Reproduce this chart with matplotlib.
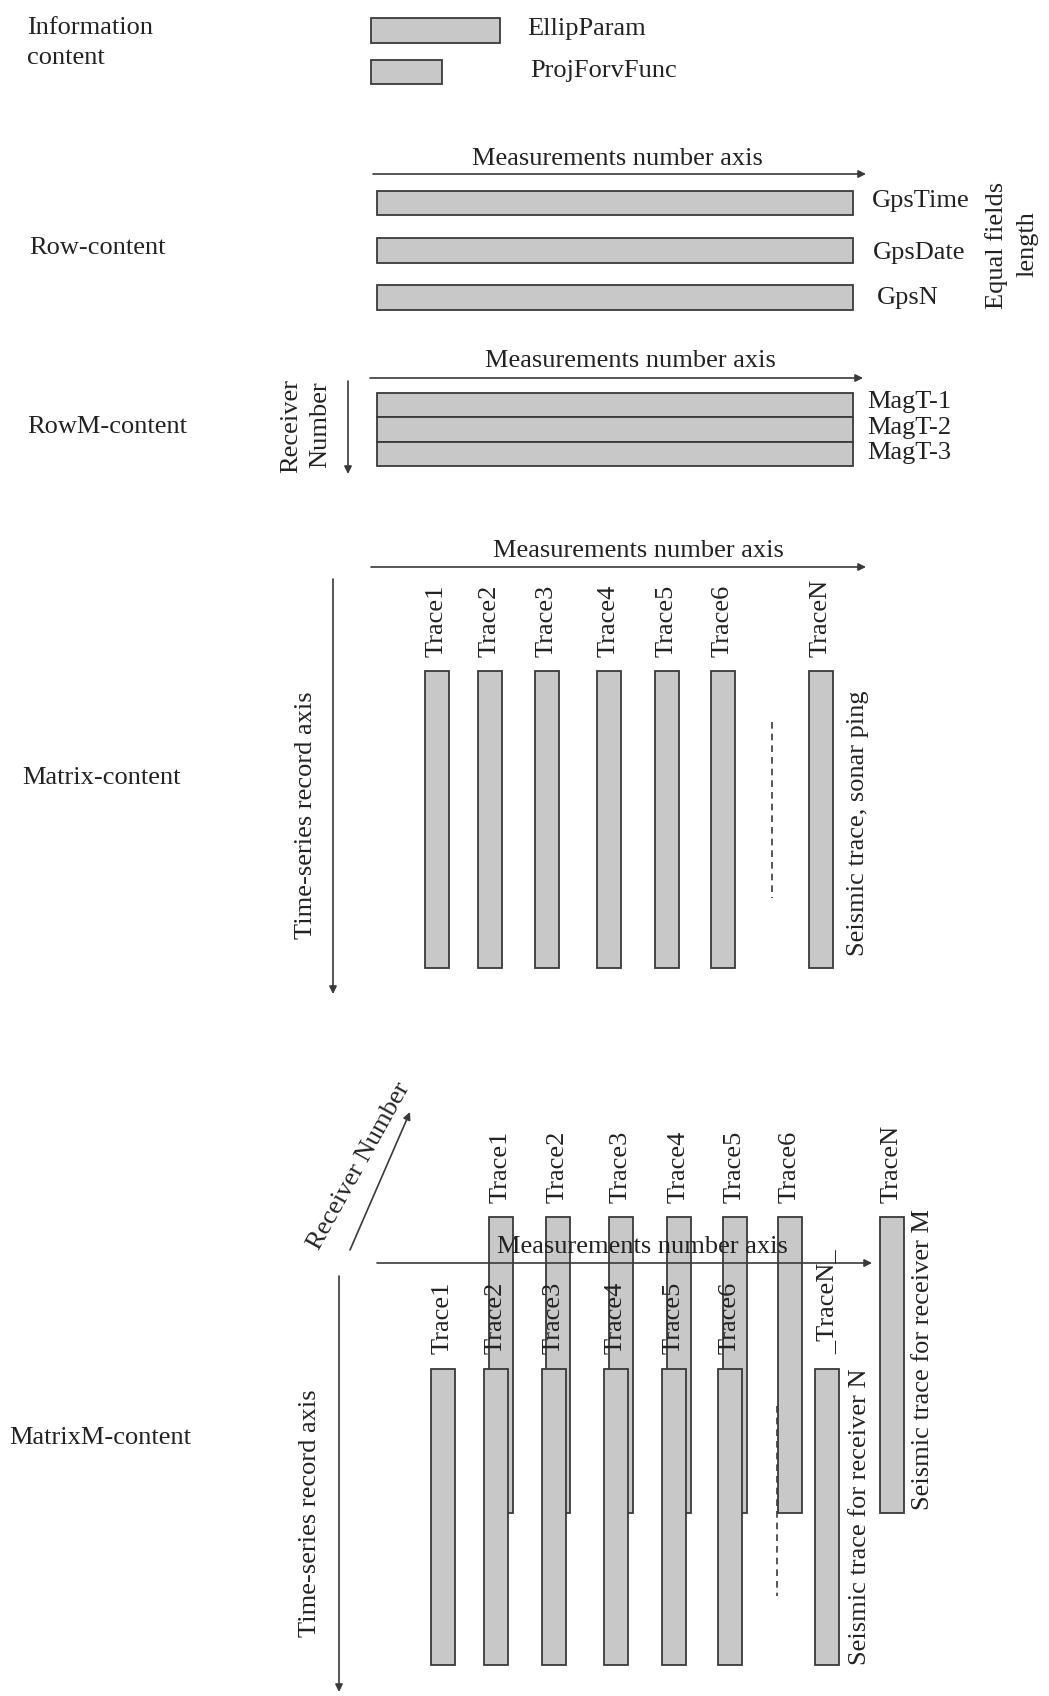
import matplotlib
matplotlib.use("Agg")
import matplotlib.pyplot as plt

# data: labels and layout of the storage-format diagram (pixel units, y down)
legend_labels = ["EllipParam", "ProjForvFunc"]
legend_box_x = [371, 371]
legend_box_w = [129, 71]
legend_box_y = [30, 72]

row_labels = ["GpsTime", "GpsDate", "GpsN"]
row_y = [203, 250.5, 297.5]
row_text_x = [872, 873, 877]
row_text_y = [201, 253, 298]

rowm_labels = ["MagT-1", "MagT-2", "MagT-3"]
rowm_y = [405, 429.5, 454]
rowm_text_y = [402, 428, 453]

trace_labels = ["Trace1", "Trace2", "Trace3", "Trace4", "Trace5", "Trace6", "TraceN"]
matrix_x = [437, 490, 547, 609, 667, 723, 821]
matrixm_back_x = [501, 558, 621, 679, 735, 790, 892]
matrixm_front_x = [443, 496, 554, 616, 674, 730, 827]
front_labels = ["Trace1", "Trace2", "Trace3", "Trace4", "Trace5", "Trace6", "_TraceN_"]

section_labels = ["Information", "content", "Row-content", "RowM-content", "Matrix-content", "MatrixM-content"]
section_x = [27, 27, 29, 27, 22, 9]
section_y = [28, 58, 248, 427, 778, 1438]

FILL = "#c8c8c8"
EDGE = "#3a3a3a"
INK = "#222222"
FS = 19

plt.rcParams["font.family"] = ["Liberation Serif", "DejaVu Serif"]

fig = plt.figure(figsize=(10.49, 16.96), dpi=100)
ax = fig.add_axes([0, 0, 1, 1])
ax.set_xlim(0, 1049)
ax.set_ylim(1696, 0)
ax.axis("off")


def arrow(x0, y0, x1, y1, z=3):
    ax.annotate("", xy=(x1, y1), xytext=(x0, y0),
                arrowprops=dict(arrowstyle="-|>", color=EDGE, lw=1.2,
                                mutation_scale=11, shrinkA=0, shrinkB=0),
                zorder=z)


def txt(x, y, s, **kw):
    kw.setdefault("fontsize", FS)
    kw.setdefault("color", INK)
    ax.text(x, y, s, **kw)


# section names
for s, x, y in zip(section_labels, section_x, section_y):
    txt(x, y, s, ha="left", va="center")

# legend boxes
ax.barh(legend_box_y, legend_box_w, height=[25, 24], left=legend_box_x,
        color=FILL, edgecolor=EDGE, linewidth=1.3)
txt(527, 29, legend_labels[0], ha="left", va="center")
txt(530, 71, legend_labels[1], ha="left", va="center")

# Row-content
arrow(373, 174, 866, 174)
txt(617, 159, "Measurements number axis", ha="center", va="center")
ax.barh(row_y, 476, height=24.5, left=377, color=FILL, edgecolor=EDGE, linewidth=1.3)
for s, x, y in zip(row_labels, row_text_x, row_text_y):
    txt(x, y, s, ha="left", va="center")
txt(997, 245, "Equal fields", rotation=90, ha="center", va="center")
txt(1027, 244, "length", rotation=90, ha="center", va="center")

# RowM-content
arrow(370, 378, 863, 378)
txt(630, 361, "Measurements number axis", ha="center", va="center")
ax.barh(rowm_y, 476, height=24.5, left=377, color=FILL, edgecolor=EDGE, linewidth=1.3)
for s, y in zip(rowm_labels, rowm_text_y):
    txt(867, y, s, ha="left", va="center")
arrow(348, 381, 348, 474)
txt(291, 426, "Receiver", rotation=90, ha="center", va="center")
txt(320, 425, "Number", rotation=90, ha="center", va="center")

# Matrix-content
arrow(371, 567, 866, 567)
txt(638, 551, "Measurements number axis", ha="center", va="center")
arrow(333, 579, 333, 994)
txt(306, 815, "Time-series record axis", rotation=90, ha="center", va="center")
ax.bar(matrix_x, 297, width=24.5, bottom=671, color=FILL, edgecolor=EDGE, linewidth=1.3)
for s, x in zip(trace_labels, matrix_x):
    txt(x, 657, s, rotation=90, ha="center", va="bottom")
ax.plot([772, 772], [722, 898], color=EDGE, lw=1.2, ls=(0, (4, 3)))
txt(858, 823, "Seismic trace, sonar ping", rotation=90, ha="center", va="center")

# MatrixM-content
ax.bar(matrixm_back_x, 296, width=24.5, bottom=1217, color=FILL, edgecolor=EDGE,
       linewidth=1.3, zorder=1)
for s, x in zip(trace_labels, matrixm_back_x):
    txt(x, 1203, s, rotation=90, ha="center", va="bottom", zorder=2)
arrow(377, 1263, 872, 1263, z=3)
txt(642, 1247, "Measurements number axis", ha="center", va="center", zorder=3)
arrow(350, 1250, 410, 1112)
txt(359, 1166, "Receiver Number", rotation=61, ha="center", va="center")
arrow(339, 1276, 339, 1692)
txt(310, 1513, "Time-series record axis", rotation=90, ha="center", va="center")
ax.bar(matrixm_front_x, 296, width=24.5, bottom=1369, color=FILL, edgecolor=EDGE,
       linewidth=1.3, zorder=4)
for s, x in zip(front_labels, matrixm_front_x):
    txt(x, 1354, s, rotation=90, ha="center", va="bottom", zorder=5)
ax.plot([777, 777], [1406, 1596], color=EDGE, lw=1.2, ls=(0, (4, 3)), zorder=5)
txt(860, 1517, "Seismic trace for receiver N", rotation=90, ha="center", va="center")
txt(923, 1359, "Seismic trace for receiver M", rotation=90, ha="center", va="center")

fig.savefig("out.png", dpi=100, facecolor="white")
